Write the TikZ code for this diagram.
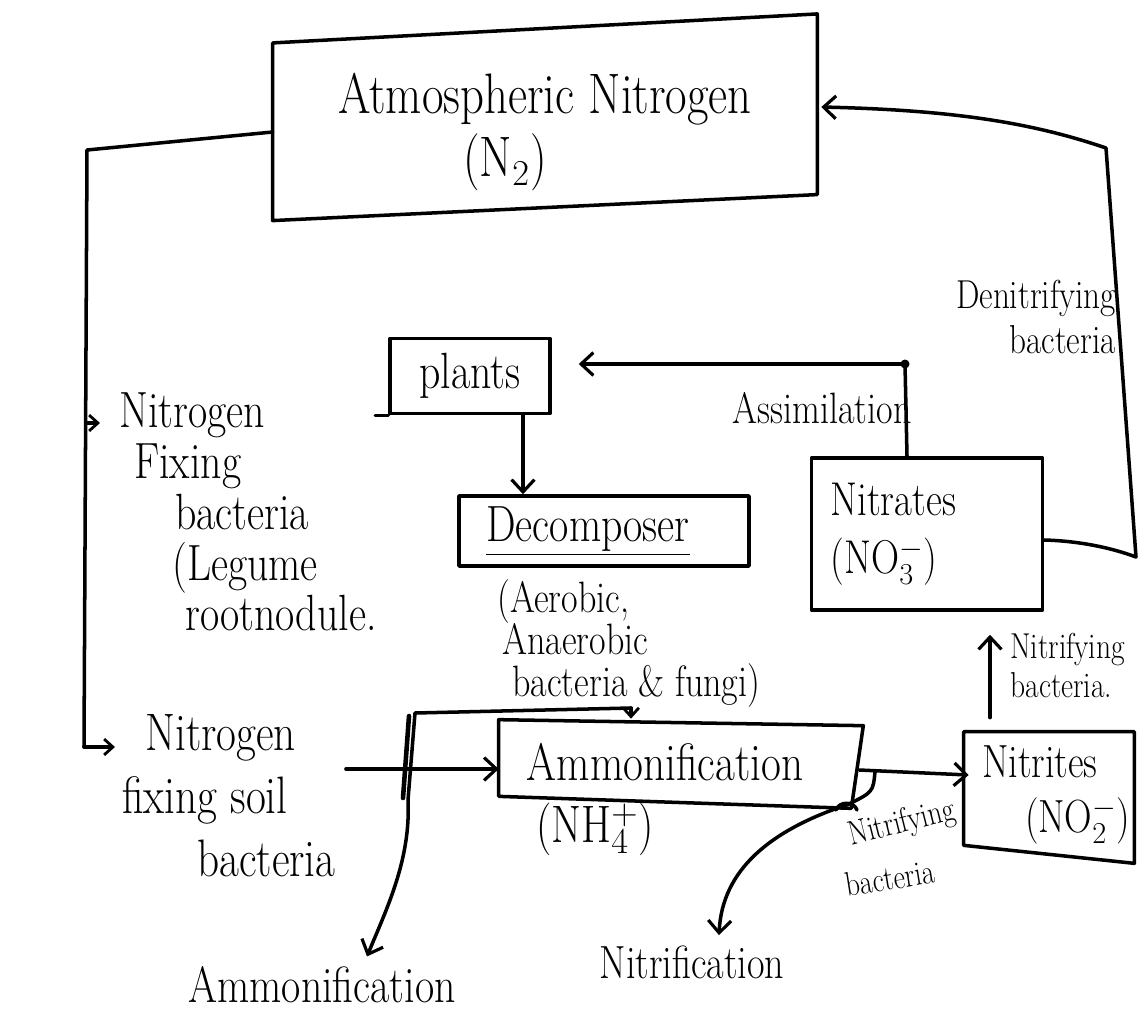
\documentclass[tikz,border=0pt]{standalone}
\usepackage{fontspec}
\setmainfont{Latin Modern Roman}[FakeStretch=0.82]
\usetikzlibrary{arrows.meta,calc}
\newcommand{\fsz}[2]{\fontsize{#1}{#2}\selectfont}
\begin{document}
\begin{tikzpicture}[x=0.02cm,y=-0.02cm,
  ink/.style={line width=2pt,line cap=round,line join=round},
  arr/.style={ink,-{Straight Barb[length=7pt,width=13pt,line width=1.8pt]}},
  sarr/.style={ink,-{Straight Barb[length=5pt,width=9pt,line width=1.6pt]}},
  txt/.style={inner sep=0pt},
  boxnode/.style={ink,draw,inner sep=0pt}
]
\fill[white] (0,0) rectangle (1143,1015);
\useasboundingbox (0,0) rectangle (1143,1015);

% ---- boxes ----
\node[txt,minimum width=10.88cm,minimum height=3.57cm] (atm) at (545,118) {};
\draw[ink] ([yshift=-0.29cm]atm.north west) -- ([yshift=0.29cm]atm.north east)
  -- ([yshift=0.26cm]atm.south east) -- ([yshift=-0.26cm]atm.south west) -- cycle;
\node[txt,align=center,font=\fsz{32.5}{36}] (atmlabel) at (545,132)
  {Atmospheric Nitrogen\\(N$_2$)\hspace*{1.6cm}};

\node[boxnode,minimum width=3.2cm,minimum height=1.5cm,font=\fsz{29}{32}] (plants) at (470,376) {plants};
\draw[ink] (plants.south west) -- ([xshift=-0.26cm]plants.south west);

\node[boxnode,minimum width=5.8cm,minimum height=1.4cm,font=\fsz{29}{32}] (decomp) at (604,531)
  {\underline{Decomposer}\hspace*{0.64cm}};
\node[txt,anchor=north west,align=left,font=\fsz{25}{24}] (decnote) at (497,579)
  {(Aerobic,\\\hspace*{0.1cm}Anaerobic\\\hspace*{0.3cm}bacteria \& fungi)};

\node[boxnode,minimum width=4.62cm,minimum height=3.04cm,text width=3.86cm,inner xsep=0.38cm,
  align=left,font=\fsz{27}{33}] (nitrates) at (927,534) {Nitrates\\(NO$_3^-$)};

\node[txt,minimum width=7.2cm,minimum height=1.6cm,font=\fsz{30}{32}] (amm) at (679,762)
  {Ammonification\hspace*{0.56cm}};
\draw[ink] ([yshift=0.04cm]amm.north west) -- ([xshift=0.08cm,yshift=-0.08cm]amm.north east)
  -- ([xshift=-0.16cm,yshift=-0.12cm]amm.south east) -- ([yshift=0.12cm]amm.south west) -- cycle;
\node[txt,font=\fsz{30}{32}] (nh4) at (595,829) {(NH$_4^+$)};

\node[txt,minimum width=3.4cm,minimum height=2.52cm,text width=2.68cm,inner xsep=0.36cm,
  align=left,font=\fsz{26.5}{31}] (nitrites) at (1049,795) {Nitrites\\\hspace*{0.86cm}(NO$_2^-$)};
\draw[ink] (nitrites.north west) -- (nitrites.north east) -- ([yshift=-0.1cm]nitrites.south east)
  -- ([yshift=0.26cm]nitrites.south west) -- cycle;

% ---- free labels ----
\node[txt,anchor=north west,align=left,font=\fsz{29}{29}] (fix) at (119,392)
  {Nitrogen\\\hspace*{0.3cm}Fixing\\\hspace*{1.12cm}bacteria\\\hspace*{1.06cm}(Legume\\\hspace*{1.32cm}rootnodule.};
\node[txt,anchor=north west,align=left,font=\fsz{30}{36}] (soil) at (122,714)
  {\hspace*{0.46cm}Nitrogen\\fixing soil\\\hspace*{1.5cm}bacteria};
\node[txt,anchor=north east,align=right,font=\fsz{23}{25.5}] (denit) at (1116,280) {Denitrifying\\bacteria};
\node[txt,anchor=east,font=\fsz{25}{28}] (assim) at (912,408) {Assimilation};
\node[txt,anchor=north west,align=left,font=\fsz{20.5}{22}] (nitrA) at (1010,633) {Nitrifying\\bacteria.};
\node[txt,rotate=14,font=\fsz{19.5}{20}] (nitrB1) at (902,824) {Nitrifying};
\node[txt,rotate=9,font=\fsz{19.5}{20}] (nitrB2) at (890,878) {bacteria};
\node[txt,font=\fsz{29}{30}] (ammlabel) at (322,985) {Ammonification};
\node[txt,font=\fsz{26.5}{28}] (nitlabel) at (692,962) {Nitrification};

% ---- nitrogen fixation ----
\coordinate (lcorner) at (87,150);
\coordinate (lfix) at (86,423);
\coordinate (lsoil) at (84,747);
\draw[ink] ([yshift=-0.28cm]atm.west) -- (lcorner) -- (lsoil);
\draw[sarr] (lfix) -- ([xshift=-0.38cm]fix.north west |- lfix);
\draw[sarr] (lsoil) -- ([xshift=-0.14cm]soil.north west |- lsoil);

% ---- assimilation ----
\coordinate (adot) at (905,364);
\draw[ink] ([xshift=-0.4cm]nitrates.north) -- (adot);
\draw[arr,shorten >=0.54cm] (adot) -- (plants.east |- adot);
\fill (adot) circle (0.09cm);

% ---- decomposition ----
\draw[arr] ([xshift=1.06cm]plants.south) -- ([xshift=1.06cm]plants.south |- decomp.north);
\draw[sarr] ([xshift=-0.96cm]amm.north |- decnote.south) -- ([xshift=-0.96cm,yshift=0.06cm]amm.north);

% ---- ammonification bracket ----
\coordinate (bj) at (631,708);
\draw[arr] (bj) -- (415,713) -- (408,800) .. controls (411,860) and (386,910) ..
  ([xshift=0.9cm,yshift=0.2cm]ammlabel.north);
\draw[line width=2.6pt,line cap=round] (409,716) -- (403,798);
\draw[arr] ([xshift=0.2cm,yshift=-0.14cm]soil.east |- amm.west) -- ([yshift=-0.14cm]amm.west);

% ---- nitrification ----
\draw[arr] ([yshift=-0.16cm]amm.east) -- ([xshift=0.1cm,yshift=0.4cm]nitrites.west);
\coordinate (nstart) at ([xshift=-0.22cm,yshift=-0.04cm]amm.south east);
\draw[arr] (nstart) .. controls (770,830) and (722,870) .. ([xshift=0.54cm,yshift=0.2cm]nitlabel.north);
\draw[ink] (875,772) .. controls (873,792) .. (nstart);
\draw[ink] (836,810) .. controls (839,801) and (854,801) .. (857,810);
\draw[arr,shorten <=0.28cm,shorten >=0.46cm] (nitrites.north -| 990,0) -- (nitrates.south -| 990,0);

% ---- denitrification ----
\draw[arr] ([yshift=-0.12cm]nitrates.east) .. controls (1080,541) and (1112,548) .. (1136,557)
  -- (1106,148) .. controls (1030,122) and (950,110) .. ([xshift=0.08cm,yshift=0.22cm]atm.east);
\end{tikzpicture}
\end{document}
